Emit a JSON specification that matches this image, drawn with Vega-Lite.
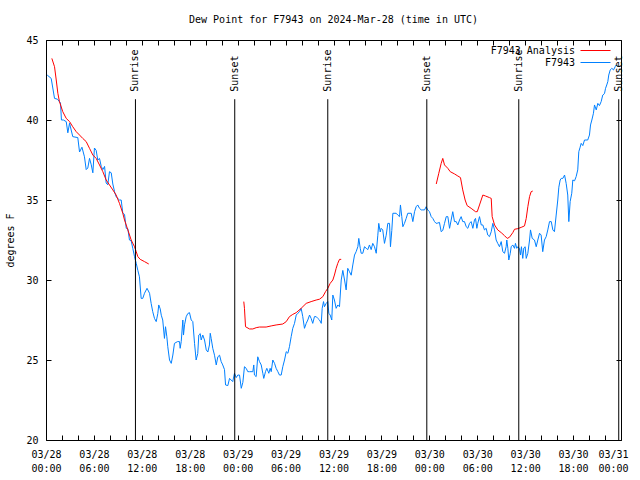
{
  "$schema": "https://vega.github.io/schema/vega-lite/v6.json",
  "width": 575,
  "height": 400,
  "autosize": {"type": "none"},
  "padding": {"left": 46, "top": 40, "right": 19, "bottom": 40},
  "background": "white",
  "config": {
    "view": {"stroke": "black", "strokeWidth": 1},
    "font": "DejaVu Sans Mono",
    "axis": {"labelFont": "DejaVu Sans Mono", "labelFontSize": 10, "labelColor": "black", "titleFont": "DejaVu Sans Mono", "titleFontSize": 10, "titleFontWeight": "normal", "titleColor": "black", "ticks": true, "tickColor": "black", "tickOpacity": 1, "tickWidth": 1, "grid": false, "domain": false, "zindex": 1},
    "legend": {"labelFont": "DejaVu Sans Mono", "labelFontSize": 10, "labelColor": "black"}
  },
  "title": {"text": "Dew Point for F7943 on 2024-Mar-28 (time in UTC)", "font": "DejaVu Sans Mono", "fontSize": 10, "fontWeight": "normal", "color": "black", "anchor": "middle", "offset": 10},
  "datasets": {
    "sun": [
      {"t": "2024-03-28T11:12:00Z", "label": "Sunrise"},
      {"t": "2024-03-28T23:38:00Z", "label": "Sunset"},
      {"t": "2024-03-29T11:17:00Z", "label": "Sunrise"},
      {"t": "2024-03-29T23:41:00Z", "label": "Sunset"},
      {"t": "2024-03-30T11:12:00Z", "label": "Sunrise"},
      {"t": "2024-03-30T23:43:00Z", "label": "Sunset"}
    ],
    "ana": [
      {"t":"2024-03-28T00:44:00Z","v":43.85,"g":1},{"t":"2024-03-28T01:04:00Z","v":43.33,"g":1},{"t":"2024-03-28T01:17:00Z","v":42.5,"g":1},{"t":"2024-03-28T01:29:00Z","v":41.67,"g":1},{"t":"2024-03-28T01:41:00Z","v":41.15,"g":1},{"t":"2024-03-28T02:06:00Z","v":40.52,"g":1},{"t":"2024-03-28T02:32:00Z","v":40.1,"g":1},{"t":"2024-03-28T02:57:00Z","v":39.9,"g":1},{"t":"2024-03-28T03:21:00Z","v":39.58,"g":1},{"t":"2024-03-28T03:47:00Z","v":39.27,"g":1},{"t":"2024-03-28T04:12:00Z","v":39.06,"g":1},{"t":"2024-03-28T04:36:00Z","v":38.85,"g":1},{"t":"2024-03-28T05:02:00Z","v":38.65,"g":1},{"t":"2024-03-28T05:27:00Z","v":38.23,"g":1},{"t":"2024-03-28T05:52:00Z","v":37.81,"g":1},{"t":"2024-03-28T06:17:00Z","v":37.6,"g":1},{"t":"2024-03-28T06:42:00Z","v":37.19,"g":1},{"t":"2024-03-28T07:07:00Z","v":36.77,"g":1},{"t":"2024-03-28T07:32:00Z","v":36.25,"g":1},{"t":"2024-03-28T07:57:00Z","v":35.94,"g":1},{"t":"2024-03-28T08:22:00Z","v":35.63,"g":1},{"t":"2024-03-28T08:47:00Z","v":35.31,"g":1},{"t":"2024-03-28T09:12:00Z","v":34.79,"g":1},{"t":"2024-03-28T09:37:00Z","v":34.17,"g":1},{"t":"2024-03-28T09:50:00Z","v":33.75,"g":1},{"t":"2024-03-28T10:15:00Z","v":33.13,"g":1},{"t":"2024-03-28T10:40:00Z","v":32.5,"g":1},{"t":"2024-03-28T11:05:00Z","v":32.08,"g":1},{"t":"2024-03-28T11:18:00Z","v":31.77,"g":1},{"t":"2024-03-28T11:30:00Z","v":31.46,"g":1},{"t":"2024-03-28T11:48:00Z","v":31.29,"g":1},{"t":"2024-03-28T12:20:00Z","v":31.15,"g":1},{"t":"2024-03-28T12:52:00Z","v":31.0,"g":1},
      {"t":"2024-03-29T00:46:00Z","v":28.65,"g":2},{"t":"2024-03-29T00:51:00Z","v":28.23,"g":2},{"t":"2024-03-29T00:59:00Z","v":27.08,"g":2},{"t":"2024-03-29T01:29:00Z","v":26.94,"g":2},{"t":"2024-03-29T01:54:00Z","v":26.94,"g":2},{"t":"2024-03-29T02:19:00Z","v":27.02,"g":2},{"t":"2024-03-29T02:44:00Z","v":27.06,"g":2},{"t":"2024-03-29T03:34:00Z","v":27.06,"g":2},{"t":"2024-03-29T04:12:00Z","v":27.13,"g":2},{"t":"2024-03-29T04:49:00Z","v":27.19,"g":2},{"t":"2024-03-29T05:39:00Z","v":27.25,"g":2},{"t":"2024-03-29T06:05:00Z","v":27.4,"g":2},{"t":"2024-03-29T06:29:00Z","v":27.71,"g":2},{"t":"2024-03-29T06:54:00Z","v":27.85,"g":2},{"t":"2024-03-29T07:20:00Z","v":27.96,"g":2},{"t":"2024-03-29T07:57:00Z","v":28.23,"g":2},{"t":"2024-03-29T08:35:00Z","v":28.54,"g":2},{"t":"2024-03-29T09:12:00Z","v":28.65,"g":2},{"t":"2024-03-29T09:50:00Z","v":28.75,"g":2},{"t":"2024-03-29T10:15:00Z","v":28.8,"g":2},{"t":"2024-03-29T10:40:00Z","v":28.96,"g":2},{"t":"2024-03-29T11:00:00Z","v":29.27,"g":2},{"t":"2024-03-29T11:17:00Z","v":29.48,"g":2},{"t":"2024-03-29T11:35:00Z","v":29.79,"g":2},{"t":"2024-03-29T11:55:00Z","v":30.0,"g":2},{"t":"2024-03-29T12:07:00Z","v":30.31,"g":2},{"t":"2024-03-29T12:20:00Z","v":30.73,"g":2},{"t":"2024-03-29T12:32:00Z","v":31.04,"g":2},{"t":"2024-03-29T12:45:00Z","v":31.29,"g":2},{"t":"2024-03-29T12:58:00Z","v":31.29,"g":2},
      {"t":"2024-03-30T00:52:00Z","v":36.0,"g":3},{"t":"2024-03-30T01:11:00Z","v":36.67,"g":3},{"t":"2024-03-30T01:29:00Z","v":37.29,"g":3},{"t":"2024-03-30T01:41:00Z","v":37.6,"g":3},{"t":"2024-03-30T01:54:00Z","v":37.19,"g":3},{"t":"2024-03-30T02:19:00Z","v":36.98,"g":3},{"t":"2024-03-30T02:37:00Z","v":36.77,"g":3},{"t":"2024-03-30T03:09:00Z","v":36.63,"g":3},{"t":"2024-03-30T03:34:00Z","v":36.5,"g":3},{"t":"2024-03-30T03:54:00Z","v":36.4,"g":3},{"t":"2024-03-30T04:11:00Z","v":35.63,"g":3},{"t":"2024-03-30T04:29:00Z","v":35.0,"g":3},{"t":"2024-03-30T04:44:00Z","v":34.65,"g":3},{"t":"2024-03-30T05:14:00Z","v":34.48,"g":3},{"t":"2024-03-30T05:47:00Z","v":34.27,"g":3},{"t":"2024-03-30T06:00:00Z","v":34.27,"g":3},{"t":"2024-03-30T06:17:00Z","v":34.69,"g":3},{"t":"2024-03-30T06:42:00Z","v":35.31,"g":3},{"t":"2024-03-30T07:02:00Z","v":35.25,"g":3},{"t":"2024-03-30T07:32:00Z","v":35.15,"g":3},{"t":"2024-03-30T07:45:00Z","v":35.1,"g":3},{"t":"2024-03-30T07:52:00Z","v":33.96,"g":3},{"t":"2024-03-30T08:10:00Z","v":33.44,"g":3},{"t":"2024-03-30T08:34:00Z","v":33.13,"g":3},{"t":"2024-03-30T09:00:00Z","v":32.96,"g":3},{"t":"2024-03-30T09:25:00Z","v":32.77,"g":3},{"t":"2024-03-30T09:45:00Z","v":32.6,"g":3},{"t":"2024-03-30T10:02:00Z","v":32.67,"g":3},{"t":"2024-03-30T10:27:00Z","v":32.96,"g":3},{"t":"2024-03-30T10:40:00Z","v":33.17,"g":3},{"t":"2024-03-30T11:05:00Z","v":33.21,"g":3},{"t":"2024-03-30T11:30:00Z","v":33.29,"g":3},{"t":"2024-03-30T11:55:00Z","v":33.38,"g":3},{"t":"2024-03-30T12:08:00Z","v":33.85,"g":3},{"t":"2024-03-30T12:20:00Z","v":34.58,"g":3},{"t":"2024-03-30T12:33:00Z","v":35.21,"g":3},{"t":"2024-03-30T12:45:00Z","v":35.52,"g":3},{"t":"2024-03-30T12:57:00Z","v":35.56,"g":3}
    ],
    "obs": [
      {"t":"2024-03-28T00:09:00Z","v":42.81},{"t":"2024-03-28T00:39:00Z","v":42.6},{"t":"2024-03-28T01:04:00Z","v":41.35},{"t":"2024-03-28T01:26:00Z","v":41.3},{"t":"2024-03-28T01:49:00Z","v":41.06},{"t":"2024-03-28T01:56:00Z","v":40.0},{"t":"2024-03-28T02:11:00Z","v":40.0},{"t":"2024-03-28T02:32:00Z","v":39.9},{"t":"2024-03-28T02:44:00Z","v":39.2},{"t":"2024-03-28T02:57:00Z","v":39.8},{"t":"2024-03-28T03:21:00Z","v":38.96},{"t":"2024-03-28T03:59:00Z","v":38.9},{"t":"2024-03-28T04:12:00Z","v":38.0},{"t":"2024-03-28T04:30:00Z","v":38.3},{"t":"2024-03-28T04:49:00Z","v":37.7},{"t":"2024-03-28T05:02:00Z","v":36.9},{"t":"2024-03-28T05:14:00Z","v":37.0},{"t":"2024-03-28T05:27:00Z","v":37.6},{"t":"2024-03-28T05:40:00Z","v":37.2},{"t":"2024-03-28T05:52:00Z","v":36.7},{"t":"2024-03-28T06:04:00Z","v":38.25},{"t":"2024-03-28T06:17:00Z","v":38.1},{"t":"2024-03-28T06:29:00Z","v":37.5},{"t":"2024-03-28T06:42:00Z","v":37.6},{"t":"2024-03-28T06:55:00Z","v":37.1},{"t":"2024-03-28T07:07:00Z","v":36.9},{"t":"2024-03-28T07:20:00Z","v":37.1},{"t":"2024-03-28T07:32:00Z","v":36.06},{"t":"2024-03-28T07:44:00Z","v":35.95},{"t":"2024-03-28T07:57:00Z","v":36.77},{"t":"2024-03-28T08:10:00Z","v":36.7},{"t":"2024-03-28T08:22:00Z","v":36.0},{"t":"2024-03-28T08:35:00Z","v":35.52},{"t":"2024-03-28T08:47:00Z","v":35.2},{"t":"2024-03-28T09:12:00Z","v":35.0},{"t":"2024-03-28T09:25:00Z","v":35.0},{"t":"2024-03-28T09:37:00Z","v":34.17},{"t":"2024-03-28T09:50:00Z","v":34.1},{"t":"2024-03-28T10:03:00Z","v":33.23},{"t":"2024-03-28T10:15:00Z","v":33.2},{"t":"2024-03-28T10:27:00Z","v":32.5},{"t":"2024-03-28T10:40:00Z","v":32.45},{"t":"2024-03-28T10:52:00Z","v":31.98},{"t":"2024-03-28T11:05:00Z","v":31.46},{"t":"2024-03-28T11:18:00Z","v":31.04},{"t":"2024-03-28T11:30:00Z","v":30.6},{"t":"2024-03-28T11:42:00Z","v":30.2},{"t":"2024-03-28T11:55:00Z","v":28.85},{"t":"2024-03-28T12:07:00Z","v":28.85},{"t":"2024-03-28T12:20:00Z","v":29.17},{"t":"2024-03-28T12:39:00Z","v":29.48},{"t":"2024-03-28T12:58:00Z","v":29.17},{"t":"2024-03-28T13:10:00Z","v":28.54},{"t":"2024-03-28T13:22:00Z","v":28.02},{"t":"2024-03-28T13:35:00Z","v":27.6},{"t":"2024-03-28T13:48:00Z","v":27.4},{"t":"2024-03-28T14:00:00Z","v":27.9},{"t":"2024-03-28T14:07:00Z","v":28.44},{"t":"2024-03-28T14:18:00Z","v":28.2},{"t":"2024-03-28T14:26:00Z","v":27.8},{"t":"2024-03-28T14:37:00Z","v":27.5},{"t":"2024-03-28T14:50:00Z","v":26.35},{"t":"2024-03-28T14:58:00Z","v":27.08},{"t":"2024-03-28T15:08:00Z","v":26.45},{"t":"2024-03-28T15:15:00Z","v":25.83},{"t":"2024-03-28T15:28:00Z","v":25.0},{"t":"2024-03-28T15:41:00Z","v":24.79},{"t":"2024-03-28T15:53:00Z","v":25.31},{"t":"2024-03-28T16:05:00Z","v":26.04},{"t":"2024-03-28T16:28:00Z","v":26.15},{"t":"2024-03-28T16:43:00Z","v":26.15},{"t":"2024-03-28T16:48:00Z","v":25.73},{"t":"2024-03-28T16:56:00Z","v":26.15},{"t":"2024-03-28T17:08:00Z","v":27.5},{"t":"2024-03-28T17:13:00Z","v":26.56},{"t":"2024-03-28T17:21:00Z","v":27.2},{"t":"2024-03-28T17:33:00Z","v":27.7},{"t":"2024-03-28T17:45:00Z","v":27.9},{"t":"2024-03-28T17:58:00Z","v":27.96},{"t":"2024-03-28T18:11:00Z","v":27.5},{"t":"2024-03-28T18:23:00Z","v":27.4},{"t":"2024-03-28T18:36:00Z","v":26.04},{"t":"2024-03-28T18:48:00Z","v":25.0},{"t":"2024-03-28T19:00:00Z","v":25.4},{"t":"2024-03-28T19:08:00Z","v":26.56},{"t":"2024-03-28T19:19:00Z","v":26.65},{"t":"2024-03-28T19:26:00Z","v":26.25},{"t":"2024-03-28T19:38:00Z","v":26.56},{"t":"2024-03-28T19:51:00Z","v":26.25},{"t":"2024-03-28T20:04:00Z","v":25.63},{"t":"2024-03-28T20:16:00Z","v":25.5},{"t":"2024-03-28T20:28:00Z","v":25.94},{"t":"2024-03-28T20:34:00Z","v":26.67},{"t":"2024-03-28T20:41:00Z","v":26.35},{"t":"2024-03-28T20:53:00Z","v":25.73},{"t":"2024-03-28T21:06:00Z","v":25.3},{"t":"2024-03-28T21:19:00Z","v":24.69},{"t":"2024-03-28T21:31:00Z","v":25.2},{"t":"2024-03-28T21:44:00Z","v":25.3},{"t":"2024-03-28T21:56:00Z","v":24.9},{"t":"2024-03-28T22:08:00Z","v":24.69},{"t":"2024-03-28T22:21:00Z","v":24.4},{"t":"2024-03-28T22:29:00Z","v":23.44},{"t":"2024-03-28T22:46:00Z","v":23.4},{"t":"2024-03-28T22:59:00Z","v":23.85},{"t":"2024-03-28T23:11:00Z","v":23.75},{"t":"2024-03-28T23:23:00Z","v":23.65},{"t":"2024-03-28T23:36:00Z","v":24.17},{"t":"2024-03-28T23:49:00Z","v":23.9},
      {"t":"2024-03-29T00:01:00Z","v":24.06},{"t":"2024-03-29T00:14:00Z","v":24.06},{"t":"2024-03-29T00:27:00Z","v":23.23},{"t":"2024-03-29T00:39:00Z","v":23.6},{"t":"2024-03-29T00:51:00Z","v":24.58},{"t":"2024-03-29T01:04:00Z","v":24.48},{"t":"2024-03-29T01:16:00Z","v":24.27},{"t":"2024-03-29T01:29:00Z","v":24.27},{"t":"2024-03-29T01:54:00Z","v":24.27},{"t":"2024-03-29T02:01:00Z","v":24.69},{"t":"2024-03-29T02:06:00Z","v":24.06},{"t":"2024-03-29T02:19:00Z","v":23.96},{"t":"2024-03-29T02:31:00Z","v":25.2},{"t":"2024-03-29T02:44:00Z","v":24.9},{"t":"2024-03-29T02:57:00Z","v":24.69},{"t":"2024-03-29T03:09:00Z","v":24.17},{"t":"2024-03-29T03:16:00Z","v":23.85},{"t":"2024-03-29T03:29:00Z","v":24.27},{"t":"2024-03-29T03:39:00Z","v":24.48},{"t":"2024-03-29T03:54:00Z","v":24.17},{"t":"2024-03-29T04:04:00Z","v":24.48},{"t":"2024-03-29T04:12:00Z","v":24.27},{"t":"2024-03-29T04:24:00Z","v":25.0},{"t":"2024-03-29T04:37:00Z","v":24.79},{"t":"2024-03-29T04:49:00Z","v":24.48},{"t":"2024-03-29T05:02:00Z","v":24.27},{"t":"2024-03-29T05:14:00Z","v":24.06},{"t":"2024-03-29T05:27:00Z","v":24.06},{"t":"2024-03-29T05:39:00Z","v":24.58},{"t":"2024-03-29T05:52:00Z","v":25.0},{"t":"2024-03-29T06:05:00Z","v":25.52},{"t":"2024-03-29T06:17:00Z","v":25.42},{"t":"2024-03-29T06:29:00Z","v":25.83},{"t":"2024-03-29T06:42:00Z","v":26.46},{"t":"2024-03-29T06:54:00Z","v":26.98},{"t":"2024-03-29T07:07:00Z","v":27.29},{"t":"2024-03-29T07:20:00Z","v":27.81},{"t":"2024-03-29T07:32:00Z","v":27.92},{"t":"2024-03-29T07:45:00Z","v":28.02},{"t":"2024-03-29T07:57:00Z","v":28.23},{"t":"2024-03-29T08:09:00Z","v":27.71},{"t":"2024-03-29T08:22:00Z","v":26.98},{"t":"2024-03-29T08:35:00Z","v":27.29},{"t":"2024-03-29T08:47:00Z","v":27.5},{"t":"2024-03-29T09:00:00Z","v":27.81},{"t":"2024-03-29T09:12:00Z","v":27.6},{"t":"2024-03-29T09:24:00Z","v":27.29},{"t":"2024-03-29T09:37:00Z","v":27.71},{"t":"2024-03-29T09:50:00Z","v":27.71},{"t":"2024-03-29T10:02:00Z","v":27.6},{"t":"2024-03-29T10:15:00Z","v":27.5},{"t":"2024-03-29T10:28:00Z","v":27.29},{"t":"2024-03-29T10:35:00Z","v":28.23},{"t":"2024-03-29T10:45:00Z","v":28.65},{"t":"2024-03-29T10:52:00Z","v":28.33},{"t":"2024-03-29T11:05:00Z","v":28.54},{"t":"2024-03-29T11:17:00Z","v":28.65},{"t":"2024-03-29T11:25:00Z","v":27.92},{"t":"2024-03-29T11:35:00Z","v":27.81},{"t":"2024-03-29T11:47:00Z","v":27.5},{"t":"2024-03-29T11:55:00Z","v":29.06},{"t":"2024-03-29T12:07:00Z","v":28.75},{"t":"2024-03-29T12:20:00Z","v":28.23},{"t":"2024-03-29T12:32:00Z","v":28.44},{"t":"2024-03-29T12:45:00Z","v":28.33},{"t":"2024-03-29T12:58:00Z","v":30.0},{"t":"2024-03-29T13:10:00Z","v":30.6},{"t":"2024-03-29T13:23:00Z","v":30.0},{"t":"2024-03-29T13:35:00Z","v":29.38},{"t":"2024-03-29T13:47:00Z","v":30.73},{"t":"2024-03-29T14:00:00Z","v":30.52},{"t":"2024-03-29T14:13:00Z","v":30.3},{"t":"2024-03-29T14:25:00Z","v":30.94},{"t":"2024-03-29T14:38:00Z","v":31.56},{"t":"2024-03-29T14:50:00Z","v":31.77},{"t":"2024-03-29T15:03:00Z","v":32.08},{"t":"2024-03-29T15:10:00Z","v":32.6},{"t":"2024-03-29T15:21:00Z","v":31.98},{"t":"2024-03-29T15:28:00Z","v":31.67},{"t":"2024-03-29T15:40:00Z","v":31.67},{"t":"2024-03-29T15:53:00Z","v":32.08},{"t":"2024-03-29T16:06:00Z","v":31.98},{"t":"2024-03-29T16:18:00Z","v":31.9},{"t":"2024-03-29T16:30:00Z","v":32.19},{"t":"2024-03-29T16:43:00Z","v":31.9},{"t":"2024-03-29T16:55:00Z","v":32.29},{"t":"2024-03-29T17:08:00Z","v":32.08},{"t":"2024-03-29T17:21:00Z","v":31.67},{"t":"2024-03-29T17:33:00Z","v":32.8},{"t":"2024-03-29T17:40:00Z","v":33.54},{"t":"2024-03-29T17:51:00Z","v":33.0},{"t":"2024-03-29T17:58:00Z","v":33.23},{"t":"2024-03-29T18:10:00Z","v":33.13},{"t":"2024-03-29T18:23:00Z","v":32.29},{"t":"2024-03-29T18:36:00Z","v":32.8},{"t":"2024-03-29T18:48:00Z","v":33.54},{"t":"2024-03-29T19:01:00Z","v":33.54},{"t":"2024-03-29T19:08:00Z","v":32.08},{"t":"2024-03-29T19:18:00Z","v":33.1},{"t":"2024-03-29T19:26:00Z","v":34.17},{"t":"2024-03-29T19:51:00Z","v":34.17},{"t":"2024-03-29T20:03:00Z","v":34.06},{"t":"2024-03-29T20:16:00Z","v":33.96},{"t":"2024-03-29T20:23:00Z","v":34.69},{"t":"2024-03-29T20:33:00Z","v":33.96},{"t":"2024-03-29T20:41:00Z","v":33.33},{"t":"2024-03-29T20:53:00Z","v":33.54},{"t":"2024-03-29T21:06:00Z","v":33.85},{"t":"2024-03-29T21:18:00Z","v":34.17},{"t":"2024-03-29T21:44:00Z","v":34.17},{"t":"2024-03-29T21:56:00Z","v":33.65},{"t":"2024-03-29T22:09:00Z","v":34.27},{"t":"2024-03-29T22:21:00Z","v":34.58},{"t":"2024-03-29T22:33:00Z","v":34.69},{"t":"2024-03-29T22:46:00Z","v":34.48},{"t":"2024-03-29T22:59:00Z","v":34.38},{"t":"2024-03-29T23:11:00Z","v":34.38},{"t":"2024-03-29T23:24:00Z","v":34.38},{"t":"2024-03-29T23:36:00Z","v":34.58},{"t":"2024-03-29T23:48:00Z","v":34.38},
      {"t":"2024-03-30T00:01:00Z","v":34.27},{"t":"2024-03-30T00:14:00Z","v":33.96},{"t":"2024-03-30T00:26:00Z","v":33.85},{"t":"2024-03-30T00:39:00Z","v":33.65},{"t":"2024-03-30T00:51:00Z","v":33.54},{"t":"2024-03-30T01:04:00Z","v":33.56},{"t":"2024-03-30T01:16:00Z","v":33.6},{"t":"2024-03-30T01:29:00Z","v":33.02},{"t":"2024-03-30T01:41:00Z","v":33.1},{"t":"2024-03-30T01:54:00Z","v":33.54},{"t":"2024-03-30T02:07:00Z","v":33.96},{"t":"2024-03-30T02:19:00Z","v":33.96},{"t":"2024-03-30T02:32:00Z","v":33.23},{"t":"2024-03-30T02:44:00Z","v":33.75},{"t":"2024-03-30T02:56:00Z","v":34.27},{"t":"2024-03-30T03:09:00Z","v":33.65},{"t":"2024-03-30T03:22:00Z","v":33.65},{"t":"2024-03-30T03:34:00Z","v":33.44},{"t":"2024-03-30T03:47:00Z","v":33.75},{"t":"2024-03-30T03:59:00Z","v":33.96},{"t":"2024-03-30T04:11:00Z","v":33.65},{"t":"2024-03-30T04:24:00Z","v":33.65},{"t":"2024-03-30T04:37:00Z","v":33.33},{"t":"2024-03-30T04:49:00Z","v":33.23},{"t":"2024-03-30T05:02:00Z","v":33.54},{"t":"2024-03-30T05:14:00Z","v":33.65},{"t":"2024-03-30T05:27:00Z","v":33.23},{"t":"2024-03-30T05:39:00Z","v":33.75},{"t":"2024-03-30T05:47:00Z","v":33.85},{"t":"2024-03-30T05:57:00Z","v":33.23},{"t":"2024-03-30T06:04:00Z","v":33.54},{"t":"2024-03-30T06:17:00Z","v":33.96},{"t":"2024-03-30T06:30:00Z","v":33.44},{"t":"2024-03-30T06:42:00Z","v":33.44},{"t":"2024-03-30T06:54:00Z","v":33.13},{"t":"2024-03-30T07:07:00Z","v":33.23},{"t":"2024-03-30T07:19:00Z","v":32.81},{"t":"2024-03-30T07:32:00Z","v":32.71},{"t":"2024-03-30T07:45:00Z","v":33.02},{"t":"2024-03-30T07:57:00Z","v":33.54},{"t":"2024-03-30T08:10:00Z","v":33.13},{"t":"2024-03-30T08:22:00Z","v":32.5},{"t":"2024-03-30T08:34:00Z","v":32.29},{"t":"2024-03-30T08:47:00Z","v":32.08},{"t":"2024-03-30T09:00:00Z","v":32.4},{"t":"2024-03-30T09:12:00Z","v":31.77},{"t":"2024-03-30T09:25:00Z","v":31.67},{"t":"2024-03-30T09:37:00Z","v":32.08},{"t":"2024-03-30T09:42:00Z","v":32.5},{"t":"2024-03-30T09:50:00Z","v":31.98},{"t":"2024-03-30T09:57:00Z","v":31.25},{"t":"2024-03-30T10:08:00Z","v":31.67},{"t":"2024-03-30T10:15:00Z","v":32.08},{"t":"2024-03-30T10:27:00Z","v":32.19},{"t":"2024-03-30T10:40:00Z","v":31.98},{"t":"2024-03-30T10:47:00Z","v":32.29},{"t":"2024-03-30T10:57:00Z","v":31.98},{"t":"2024-03-30T11:05:00Z","v":32.08},{"t":"2024-03-30T11:17:00Z","v":31.98},{"t":"2024-03-30T11:25:00Z","v":31.56},{"t":"2024-03-30T11:32:00Z","v":32.08},{"t":"2024-03-30T11:42:00Z","v":31.35},{"t":"2024-03-30T11:50:00Z","v":32.0},{"t":"2024-03-30T12:00:00Z","v":32.08},{"t":"2024-03-30T12:08:00Z","v":31.35},{"t":"2024-03-30T12:20:00Z","v":31.67},{"t":"2024-03-30T12:33:00Z","v":32.5},{"t":"2024-03-30T12:40:00Z","v":33.13},{"t":"2024-03-30T12:53:00Z","v":32.6},{"t":"2024-03-30T13:10:00Z","v":32.5},{"t":"2024-03-30T13:23:00Z","v":32.08},{"t":"2024-03-30T13:35:00Z","v":32.5},{"t":"2024-03-30T13:48:00Z","v":32.92},{"t":"2024-03-30T14:00:00Z","v":32.81},{"t":"2024-03-30T14:12:00Z","v":31.77},{"t":"2024-03-30T14:25:00Z","v":32.5},{"t":"2024-03-30T14:38:00Z","v":32.71},{"t":"2024-03-30T14:50:00Z","v":33.13},{"t":"2024-03-30T15:03:00Z","v":33.65},{"t":"2024-03-30T15:16:00Z","v":33.65},{"t":"2024-03-30T15:28:00Z","v":33.13},{"t":"2024-03-30T15:40:00Z","v":33.02},{"t":"2024-03-30T15:53:00Z","v":34.06},{"t":"2024-03-30T16:05:00Z","v":35.0},{"t":"2024-03-30T16:13:00Z","v":35.8},{"t":"2024-03-30T16:23:00Z","v":36.25},{"t":"2024-03-30T16:31:00Z","v":36.35},{"t":"2024-03-30T16:43:00Z","v":36.35},{"t":"2024-03-30T16:56:00Z","v":36.56},{"t":"2024-03-30T17:08:00Z","v":36.04},{"t":"2024-03-30T17:20:00Z","v":35.31},{"t":"2024-03-30T17:28:00Z","v":33.65},{"t":"2024-03-30T17:38:00Z","v":34.9},{"t":"2024-03-30T17:50:00Z","v":35.42},{"t":"2024-03-30T17:58:00Z","v":36.25},{"t":"2024-03-30T18:11:00Z","v":36.2},{"t":"2024-03-30T18:23:00Z","v":36.46},{"t":"2024-03-30T18:35:00Z","v":36.88},{"t":"2024-03-30T18:43:00Z","v":38.02},{"t":"2024-03-30T18:53:00Z","v":38.3},{"t":"2024-03-30T19:01:00Z","v":38.54},{"t":"2024-03-30T19:13:00Z","v":38.4},{"t":"2024-03-30T19:26:00Z","v":38.75},{"t":"2024-03-30T19:50:00Z","v":38.75},{"t":"2024-03-30T20:03:00Z","v":39.06},{"t":"2024-03-30T20:11:00Z","v":39.69},{"t":"2024-03-30T20:21:00Z","v":40.0},{"t":"2024-03-30T20:33:00Z","v":40.42},{"t":"2024-03-30T20:41:00Z","v":40.94},{"t":"2024-03-30T20:54:00Z","v":40.63},{"t":"2024-03-30T21:06:00Z","v":41.04},{"t":"2024-03-30T21:18:00Z","v":40.9},{"t":"2024-03-30T21:31:00Z","v":41.15},{"t":"2024-03-30T21:43:00Z","v":41.56},{"t":"2024-03-30T21:56:00Z","v":41.65},{"t":"2024-03-30T22:04:00Z","v":41.98},{"t":"2024-03-30T22:13:00Z","v":42.19},{"t":"2024-03-30T22:21:00Z","v":42.4},{"t":"2024-03-30T22:28:00Z","v":42.81},{"t":"2024-03-30T22:39:00Z","v":43.13},{"t":"2024-03-30T22:51:00Z","v":43.23},{"t":"2024-03-30T23:04:00Z","v":43.13},{"t":"2024-03-30T23:16:00Z","v":43.33},{"t":"2024-03-30T23:24:00Z","v":43.44},{"t":"2024-03-30T23:36:00Z","v":43.33}
    ]
  },
  "layer": [
    {
      "data": {"name": "obs"},
      "mark": {"type": "line", "strokeWidth": 1},
      "encoding": {
        "x": {"field": "t", "type": "temporal", "scale": {"type": "utc", "domain": [1711584000000, 1711843200000]},
              "axis": {"orient": "bottom", "ticks": true, "tickSize": 5, "offset": -5, "values": [1711584000000,1711591200000,1711598400000,1711605600000,1711612800000,1711620000000,1711627200000,1711634400000,1711641600000,1711648800000,1711656000000,1711663200000,1711670400000,1711677600000,1711684800000,1711692000000,1711699200000,1711706400000,1711713600000,1711720800000,1711728000000,1711735200000,1711742400000,1711749600000,1711756800000,1711764000000,1711771200000,1711778400000,1711785600000,1711792800000,1711800000000,1711807200000,1711814400000,1711821600000,1711828800000,1711836000000,1711843200000],
                       "labelPadding": 9, "labelOverlap": false, "labelFlush": false, "labelBound": false, "labelLineHeight": 14, "labelBaseline": "top", "title": null,
                       "labelOffset": {"condition": {"test": "datum.value >= 1711843000000", "value": -8}, "value": 0},
                       "labelExpr": "utchours(datum.value) % 6 == 0 ? [utcFormat(datum.value, '%m/%d'), utcFormat(datum.value, '%H:%M')] : ''"}},
        "y": {"field": "v", "type": "quantitative", "scale": {"domain": [20, 45], "nice": false, "zero": false},
              "axis": {"orient": "left", "ticks": true, "tickSize": 5, "offset": -5, "values": [20, 25, 30, 35, 40, 45], "labelPadding": 8, "title": "degrees F", "titlePadding": 10}},
        "color": {"datum": "F7943", "type": "nominal", "scale": {"domain": ["F7943 Analysis", "F7943"], "range": ["#ff0000", "#0080ff"]},
                  "legend": {"title": null, "orient": "none", "legendX": 544, "legendY": 5, "symbolType": "M-3,0H3", "symbolSize": 100, "symbolStrokeWidth": 1, "labelAlign": "right", "labelOffset": -26, "rowPadding": 1, "padding": 0}}
      }
    },
    {
      "data": {"name": "ana"},
      "mark": {"type": "line", "strokeWidth": 1},
      "encoding": {
        "x": {"field": "t", "type": "temporal", "axis": null},
        "y": {"field": "v", "type": "quantitative", "axis": null},
        "detail": {"field": "g"},
        "color": {"datum": "F7943 Analysis", "type": "nominal"}
      }
    },
    {
      "data": {"name": "sun"},
      "mark": {"type": "rule", "color": "black", "strokeWidth": 1},
      "encoding": {
        "x": {"field": "t", "type": "temporal",
              "axis": {"orient": "top", "ticks": true, "labels": false, "tickSize": 5, "offset": -5, "values": [1711584000000,1711591200000,1711598400000,1711605600000,1711612800000,1711620000000,1711627200000,1711634400000,1711641600000,1711648800000,1711656000000,1711663200000,1711670400000,1711677600000,1711684800000,1711692000000,1711699200000,1711706400000,1711713600000,1711720800000,1711728000000,1711735200000,1711742400000,1711749600000,1711756800000,1711764000000,1711771200000,1711778400000,1711785600000,1711792800000,1711800000000,1711807200000,1711814400000,1711821600000,1711828800000,1711836000000,1711843200000], "title": null}},
        "y": {"datum": 20, "type": "quantitative",
              "axis": {"orient": "right", "ticks": true, "labels": false, "tickSize": 5, "offset": -5, "values": [20, 25, 30, 35, 40, 45], "title": null}},
        "y2": {"datum": 41.3}
      }
    },
    {
      "data": {"name": "sun"},
      "mark": {"type": "text", "angle": 270, "align": "left", "baseline": "middle", "font": "DejaVu Sans Mono", "fontSize": 10, "color": "black"},
      "encoding": {
        "x": {"field": "t", "type": "temporal", "axis": null},
        "y": {"datum": 41.77, "type": "quantitative", "axis": null},
        "text": {"field": "label"}
      }
    }
  ],
  "resolve": {"axis": {"x": "independent", "y": "independent"}}
}
